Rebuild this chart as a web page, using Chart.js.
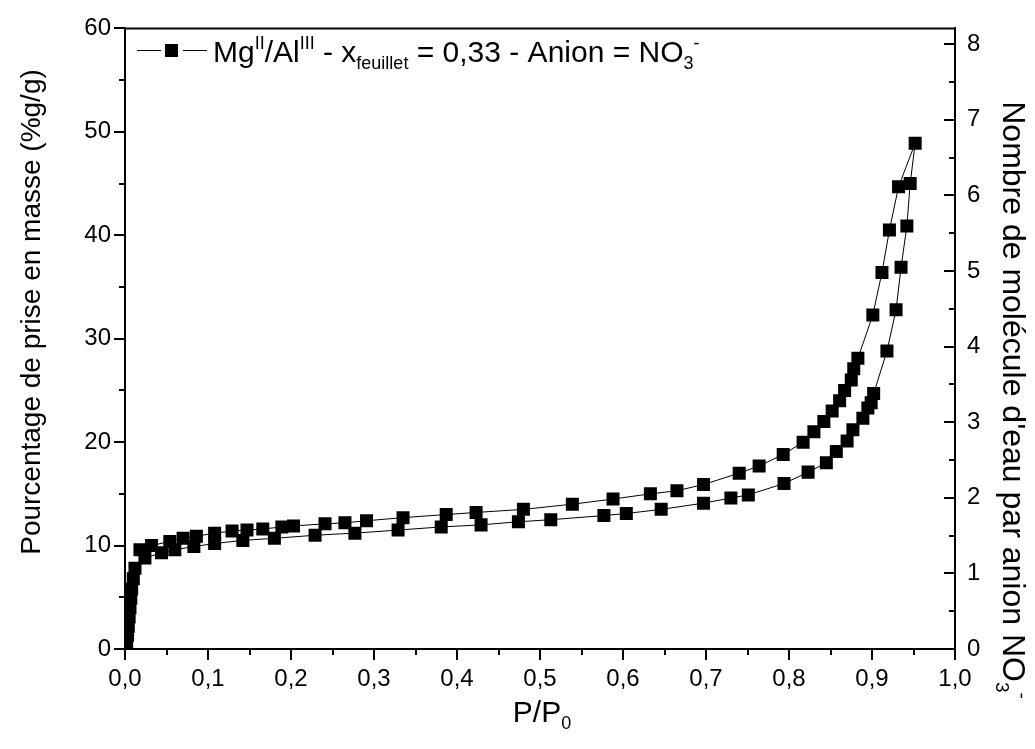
<!DOCTYPE html>
<html><head><meta charset="utf-8">
<script src="https://cdn.jsdelivr.net/npm/chart.js@4/dist/chart.umd.min.js"></script>
<style>html,body{margin:0;padding:0;background:#fff;}#wrap{width:1035px;height:749px;position:relative;}</style>
</head><body><div id="wrap"><canvas id="c" width="1035" height="749"></canvas></div>
<script>
// Adsorption branch (P/P0, % mass uptake)
const adsX = [0.002,0.003,0.004,0.005,0.006,0.007,0.008,0.010,0.012,0.024,0.044,0.060,0.083,0.108,0.142,0.180,0.229,0.277,0.329,0.381,0.429,0.474,0.513,0.577,0.604,0.646,0.697,0.730,0.751,0.794,0.823,0.845,0.857,0.870,0.877,0.889,0.895,0.899,0.902,0.918,0.929,0.935,0.942,0.946,0.952];
const adsY = [0.4,1.3,2.2,3.1,4.0,4.9,5.8,6.8,7.8,8.8,9.3,9.6,9.9,10.2,10.5,10.7,11.0,11.2,11.5,11.8,12.0,12.3,12.5,12.9,13.1,13.5,14.1,14.6,14.9,16.0,17.1,18.0,19.1,20.1,21.2,22.3,23.3,23.8,24.7,28.8,32.8,36.9,40.9,45.0,48.9];
// Desorption branch
const desX = [0.932,0.921,0.912,0.901,0.883,0.878,0.875,0.867,0.861,0.852,0.842,0.830,0.817,0.793,0.764,0.740,0.697,0.665,0.633,0.588,0.539,0.480,0.423,0.387,0.335,0.291,0.265,0.241,0.203,0.189,0.166,0.147,0.129,0.108,0.086,0.070,0.054,0.032,0.018];
const desY = [44.7,40.5,36.4,32.3,28.1,27.1,26.0,25.0,24.0,23.0,22.0,21.0,20.0,18.8,17.7,17.0,15.9,15.3,15.0,14.5,14.0,13.5,13.2,13.0,12.7,12.4,12.2,12.1,11.9,11.8,11.6,11.5,11.4,11.2,10.9,10.7,10.4,10.0,9.6];

const xTicks = [0,0.1,0.2,0.3,0.4,0.5,0.6,0.7,0.8,0.9,1.0];
const yLeftTicks = [0,10,20,30,40,50,60];
const yRightTicks = [0,1,2,3,4,5,6,7,8];
const xMinorStep = 0.05, yLeftMinorStep = 5, yRightMinorStep = 0.5;
const xRange = [0,1], yLeftRange = [0,60], yRightRange = [0,8.21];

const legendParts = [["Mg",""],["II","sup"],["/Al",""],["III","sup"],[" - x",""],["feuillet","sub"],[" = 0,33 - Anion = NO",""],["3","sub"],["-","sup"]];
const xTitleParts = [["P/P",""],["0","sub"]];
const yLeftTitle = "Pourcentage de prise en masse (%g/g)";
const yRightTitleParts = [["Nombre de molécule d'eau par anion NO",""],["3","sub"],["-","sup"]];

const FONT = "'Liberation Sans', Arial, sans-serif";
const points = adsX.map((x,i)=>({x, y: adsY[i]})).concat(desX.map((x,i)=>({x, y: desY[i]})));

function drawRich(ctx, parts, x, y, size, align) {
  const small = Math.round(size*0.6);
  let total = 0;
  const widths = parts.map(([t,m])=>{ ctx.font = (m? small: size)+"px "+FONT; const w = ctx.measureText(t).width; total += w; return w; });
  let cx = align === 'center' ? x - total/2 : x;
  ctx.textBaseline = 'alphabetic'; ctx.textAlign = 'left';
  parts.forEach(([t,m],i)=>{
    ctx.font = (m? small: size)+"px "+FONT;
    let dy = 0;
    if (m === 'sup') dy = -size*0.42;
    if (m === 'sub') dy = size*0.22;
    ctx.fillText(t, cx, y+dy);
    cx += widths[i];
  });
}

const deco = {
  id: 'deco',
  afterDraw(chart) {
    const ctx = chart.ctx, a = chart.chartArea;
    const sx = chart.scales.x, sl = chart.scales.y, sr = chart.scales.y2;
    ctx.save();
    ctx.strokeStyle = '#000'; ctx.fillStyle = '#000'; ctx.lineWidth = 2; ctx.lineCap = 'butt';
    ctx.beginPath(); ctx.moveTo(a.left-1, a.top); ctx.lineTo(a.right+1, a.top); ctx.stroke();
    for (let v = yLeftRange[0]; v <= yLeftRange[1]+1e-9; v += yLeftMinorStep) {
      const major = yLeftTicks.includes(Math.round(v));
      const p = Math.round(sl.getPixelForValue(v));
      ctx.beginPath(); ctx.moveTo(a.left - (major?11:6), p); ctx.lineTo(a.left, p); ctx.stroke();
    }
    for (let i = 0; i <= 20; i++) {
      const v = i*xMinorStep; const major = i%2===0;
      const p = Math.round(sx.getPixelForValue(v));
      ctx.beginPath(); ctx.moveTo(p, a.bottom); ctx.lineTo(p, a.bottom + (major?11:6)); ctx.stroke();
    }
    for (let i = 0; i <= 16; i++) {
      const v = i*yRightMinorStep; const major = i%2===0;
      const p = Math.round(sr.getPixelForValue(v));
      ctx.beginPath(); ctx.moveTo(a.right - (major?11:6), p); ctx.lineTo(a.right, p); ctx.stroke();
    }
    // legend
    ctx.lineWidth = 1;
    ctx.beginPath(); ctx.moveTo(137, 50.5); ctx.lineTo(161, 50.5); ctx.moveTo(183, 50.5); ctx.lineTo(207, 50.5); ctx.stroke();
    ctx.fillRect(165, 44, 13, 13);
    drawRich(ctx, legendParts, 213, 62, 30, 'left');
    // x title
    drawRich(ctx, xTitleParts, 542, 722, 30, 'center');
    // left title
    ctx.save(); ctx.translate(40, 312); ctx.rotate(-Math.PI/2);
    ctx.font = "28px "+FONT; ctx.textAlign='center'; ctx.textBaseline='alphabetic';
    ctx.fillText(yLeftTitle, 0, 0); ctx.restore();
    // right title
    ctx.save(); ctx.translate(1003, 400); ctx.rotate(Math.PI/2);
    drawRich(ctx, yRightTitleParts, 0, 0, 32, 'center'); ctx.restore();
    ctx.restore();
  }
};

const tickFont = {family: FONT, size: 24};
new Chart(document.getElementById('c'), {
  type: 'scatter',
  data: { datasets: [{
    label: 'Mg/Al', data: points, showLine: true,
    borderColor: '#000', borderWidth: 1,
    pointStyle: 'rect', pointRadius: 9.2, pointBackgroundColor: '#000', pointBorderWidth: 0,
    pointHoverRadius: 9.2
  }]},
  options: {
    responsive: false, animation: false, devicePixelRatio: 1,
    layout: { padding: { top: 20, left: 0, right: 0, bottom: 0 } },
    plugins: { legend: { display: false }, tooltip: { enabled: false } },
    scales: {
      x: { type: 'linear', position: 'bottom', min: xRange[0], max: xRange[1],
        afterBuildTicks: s => { s.ticks = xTicks.map(v=>({value:v})); },
        afterFit: s => { s.height = 100; },
        ticks: { font: tickFont, color: '#000', padding: 16, maxRotation: 0, autoSkip: false,
          callback: v => v.toFixed(1).replace('.', ',') },
        grid: { display: false, drawTicks: false },
        border: { display: true, color: '#000', width: 2 } },
      y: { type: 'linear', position: 'left', min: yLeftRange[0], max: yLeftRange[1],
        afterBuildTicks: s => { s.ticks = yLeftTicks.map(v=>({value:v})); },
        afterFit: s => { s.width = 125; },
        ticks: { font: tickFont, color: '#000', padding: 14, autoSkip: false, callback: v => String(v) },
        grid: { display: false, drawTicks: false },
        border: { display: true, color: '#000', width: 2 } },
      y2: { type: 'linear', position: 'right', min: yRightRange[0], max: yRightRange[1],
        afterBuildTicks: s => { s.ticks = yRightTicks.map(v=>({value:v})); },
        afterFit: s => { s.width = 80; },
        ticks: { font: tickFont, color: '#000', padding: 12, autoSkip: false, callback: v => String(v) },
        grid: { display: false, drawTicks: false },
        border: { display: true, color: '#000', width: 2 } }
    }
  },
  plugins: [deco]
});
</script></body></html>
